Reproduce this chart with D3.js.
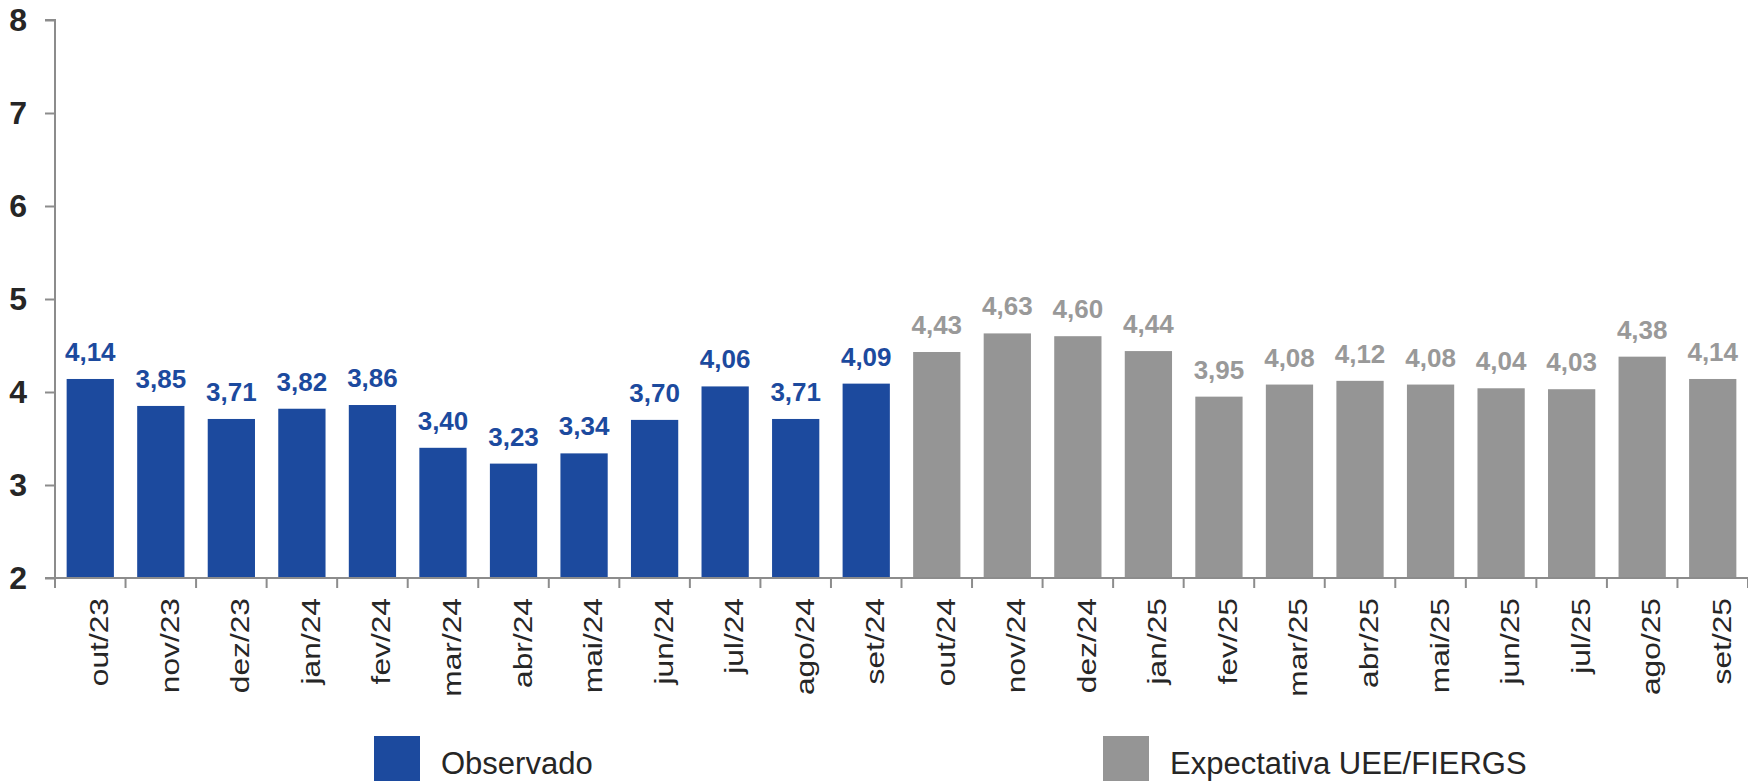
<!DOCTYPE html>
<html>
<head>
<meta charset="utf-8">
<script src="https://cdn.jsdelivr.net/npm/d3@7"></script>
<style>
  html, body { margin: 0; padding: 0; background: #ffffff; }
  svg { display: block; font-family: "Liberation Sans", Arial, sans-serif; }
</style>
</head>
<body>
<svg id="chart" width="1748" height="781"></svg>
<script>
const categories = ["out/23","nov/23","dez/23","jan/24","fev/24","mar/24","abr/24","mai/24","jun/24","jul/24","ago/24","set/24",
                    "out/24","nov/24","dez/24","jan/25","fev/25","mar/25","abr/25","mai/25","jun/25","jul/25","ago/25","set/25"];
const observado = [4.14, 3.85, 3.71, 3.82, 3.86, 3.40, 3.23, 3.34, 3.70, 4.06, 3.71, 4.09,
                   null, null, null, null, null, null, null, null, null, null, null, null];
const expectativa = [null, null, null, null, null, null, null, null, null, null, null, null,
                     4.43, 4.63, 4.60, 4.44, 3.95, 4.08, 4.12, 4.08, 4.04, 4.03, 4.38, 4.14];
const yTicks = [2, 3, 4, 5, 6, 7, 8];
const seriesNames = ["Observado", "Expectativa UEE/FIERGS"];

const BLUE = "#1c4a9e", GRAY = "#959595", AXIS = "#8c8c8c", TEXT = "#262626";

const svg = d3.select("#chart");
const plotL = 55, plotR = 1748, plotT = 20, plotB = 578;

const x = d3.scaleBand().domain(categories).range([plotL, plotR]).paddingInner(0.33).paddingOuter(0.165);
const y = d3.scaleLinear().domain([2, 8]).range([plotB, plotT]);

const fmt = v => v.toFixed(2).replace(".", ",");

const data = categories.map((c, i) => ({
  cat: c,
  value: observado[i] != null ? observado[i] : expectativa[i],
  series: observado[i] != null ? 0 : 1
}));
const colors = [BLUE, GRAY];

// bars
svg.append("g").selectAll("rect").data(data).join("rect")
  .attr("x", d => x(d.cat))
  .attr("y", d => y(d.value))
  .attr("width", x.bandwidth())
  .attr("height", d => y(2) - y(d.value))
  .attr("fill", d => colors[d.series]);

// value labels
svg.append("g").selectAll("text").data(data).join("text")
  .attr("x", d => x(d.cat) + x.bandwidth() / 2)
  .attr("y", d => y(d.value) - 18)
  .attr("text-anchor", "middle")
  .attr("font-size", 26)
  .attr("font-weight", "bold")
  .attr("fill", d => d.series === 0 ? BLUE : "#999999")
  .text(d => fmt(d.value));

// y axis
const yAxis = d3.axisLeft(y).tickValues(yTicks).tickSize(10).tickPadding(18).tickFormat(d3.format("d"));
const gy = svg.append("g").attr("transform", `translate(${plotL},0)`).call(yAxis);
gy.select(".domain").attr("stroke", AXIS).attr("stroke-width", 2).attr("d", `M-10,${plotT}H0V${plotB}`);
gy.selectAll(".tick line").attr("stroke", AXIS).attr("stroke-width", 2);
gy.selectAll(".tick text").attr("font-size", 32).attr("font-weight", "bold").attr("fill", TEXT)
  .attr("font-family", '"Liberation Sans", Arial, sans-serif');

// x axis line & boundary ticks
const step = x.step();
const boundaries = d3.range(categories.length + 1).map(i => plotL + i * step);
const gx = svg.append("g");
gx.append("line").attr("x1", plotL - 10).attr("x2", plotR).attr("y1", plotB).attr("y2", plotB)
  .attr("stroke", AXIS).attr("stroke-width", 2);
gx.selectAll("line.bt").data(boundaries).join("line").attr("class", "bt")
  .attr("x1", d => d).attr("x2", d => d).attr("y1", plotB).attr("y2", plotB + 10)
  .attr("stroke", AXIS).attr("stroke-width", 2);

// x labels (rotated)
gx.selectAll("text").data(categories).join("text")
  .attr("transform", d => `translate(${x(d) + x.bandwidth() / 2 + 18},${plotB + 20}) rotate(-90) scale(1.22,1)`)
  .attr("text-anchor", "end")
  .attr("font-size", 26)
  .attr("fill", TEXT)
  .text(d => d);

// legend
const legendX = [374, 1103];
const lg = svg.append("g");
seriesNames.forEach((name, i) => {
  lg.append("rect").attr("x", legendX[i]).attr("y", 736).attr("width", 46).attr("height", 46).attr("fill", colors[i]);
  lg.append("text").attr("x", legendX[i] + 67).attr("y", 774).attr("font-size", 31).attr("fill", TEXT).text(name);
});
</script>
</body>
</html>
